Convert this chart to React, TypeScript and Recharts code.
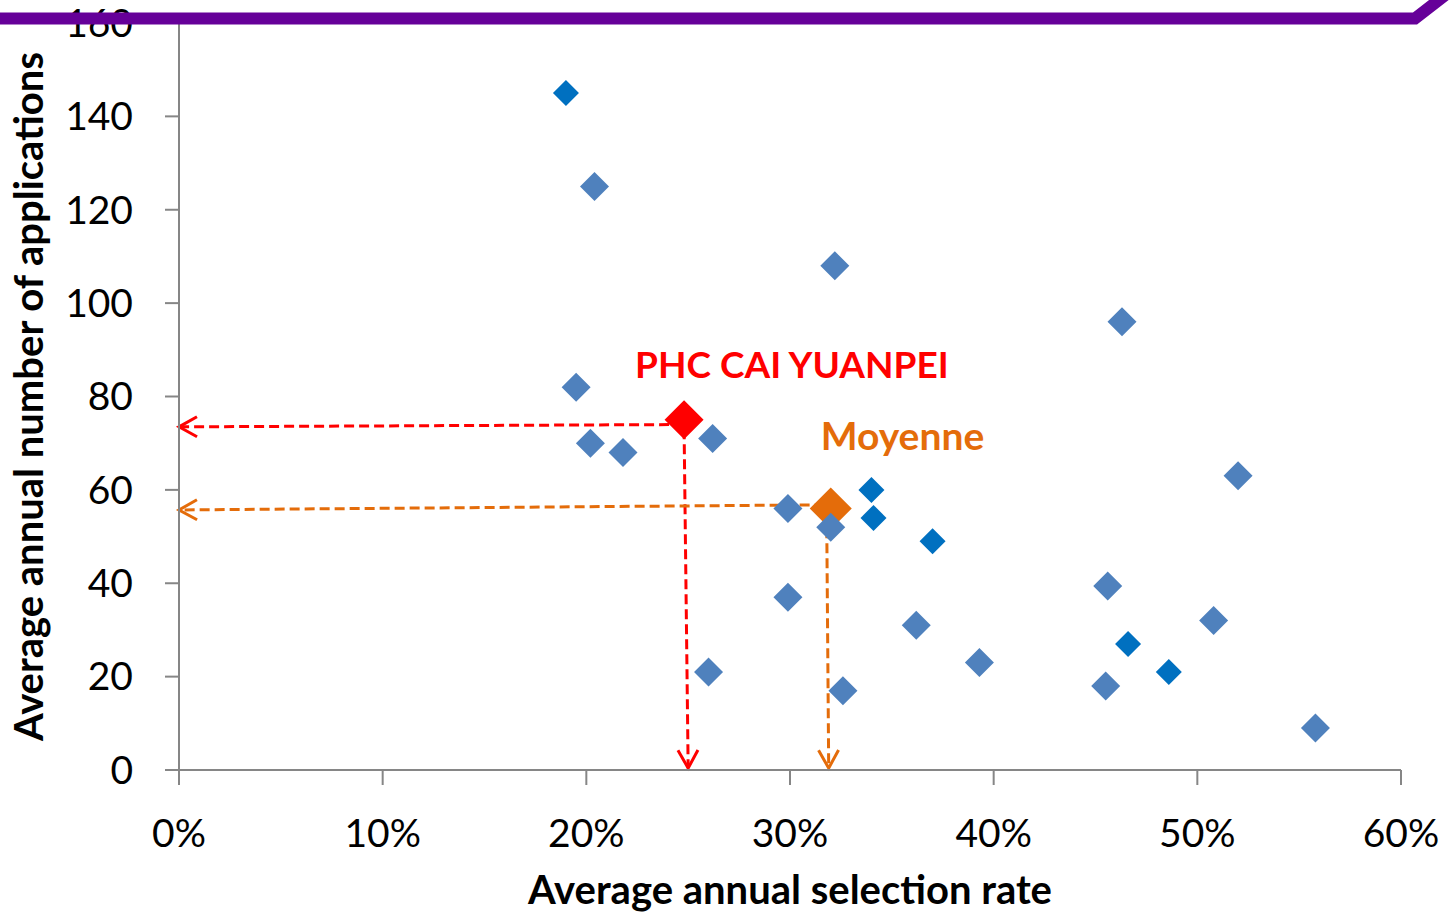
import React from "react";
import { ScatterChart, Scatter, XAxis, YAxis, ReferenceLine, Label } from "recharts";

// Steel-blue series (selection rate %, applications)
const steelX = [20.4, 32.2, 46.3, 19.5, 20.2, 21.8, 26.2, 52.0, 29.9, 32.0, 29.9, 45.6, 50.8, 36.2, 39.3, 26.0, 32.6, 45.5, 55.8];
const steelY = [125, 108, 96, 82, 70, 68, 71, 63, 56, 52, 37, 39.4, 32, 31, 23, 21, 17, 18, 9];
// Dark-blue series
const darkX = [19.0, 34.0, 34.1, 37.0, 46.6, 48.6];
const darkY = [145, 60, 54, 49, 27, 21];
// Highlighted points
const phcX = [24.8];
const phcY = [75];
const moyX = [32.0];
const moyY = [56];
const phcLabel = "PHC CAI YUANPEI";
const moyLabel = "Moyenne";

const xTicks = [0, 10, 20, 30, 40, 50, 60];
const yTicks = [0, 20, 40, 60, 80, 100, 120, 140, 160];

// guide arrows: [x1, y1, x2, y2]
const redGuideH = [24.8, 74.0, 0, 73.5];
const redGuideV = [24.8, 73.0, 25.0, 0.4];
const orangeGuideH = [31.7, 56.8, 0, 55.7];
const orangeGuideV = [31.8, 55.0, 31.9, 0.4];

const toPts = (xs: number[], ys: number[]) => xs.map((x, i) => ({ x, y: ys[i] }));
const steelData = toPts(steelX, steelY);
const darkData = toPts(darkX, darkY);
const phcData = toPts(phcX, phcY);
const moyData = toPts(moyX, moyY);

const FONT = "Lato, 'Open Sans', sans-serif";
const RED = "#FF0000";
const ORANGE = "#E46C0A";

const diamond = (r: number, fill: string) => (p: any) => {
  const { cx, cy } = p;
  return <polygon points={`${cx},${cy - r} ${cx + r},${cy} ${cx},${cy + r} ${cx - r},${cy}`} fill={fill} />;
};

const labeledDiamond = (r: number, fill: string, text: string, dx: number, dy: number, fs: number) => (p: any) => {
  const { cx, cy } = p;
  return (
    <g>
      <polygon points={`${cx},${cy - r} ${cx + r},${cy} ${cx},${cy + r} ${cx - r},${cy}`} fill={fill} />
      <text x={cx + dx} y={cy + dy} fill={fill} fontFamily={FONT} fontWeight={700} fontSize={fs}>
        {text}
      </text>
    </g>
  );
};

const arrowShape = (color: string) => (p: any) => {
  const { x1, y1, x2, y2 } = p;
  const ang = Math.atan2(y2 - y1, x2 - x1);
  const L = 18;
  const W = 10;
  const bx = x2 - L * Math.cos(ang);
  const by = y2 - L * Math.sin(ang);
  const px = -Math.sin(ang) * W;
  const py = Math.cos(ang) * W;
  return (
    <g>
      <line x1={x1} y1={y1} x2={x2} y2={y2} stroke={color} strokeWidth={3} strokeDasharray="10 5" />
      <polyline
        points={`${bx + px},${by + py} ${x2},${y2} ${bx - px},${by - py}`}
        fill="none"
        stroke={color}
        strokeWidth={3}
      />
    </g>
  );
};

const seg = (a: number[]) => [
  { x: a[0], y: a[1] },
  { x: a[2], y: a[3] },
];

export default function App() {
  return (
    <div style={{ position: "absolute", left: 0, top: 0, width: 1453, height: 915, background: "#fff" }}>
      <ScatterChart width={1453} height={915} margin={{ top: 23, right: 52, bottom: 0, left: 0 }}>
        <XAxis
          type="number"
          dataKey="x"
          domain={[0, 60]}
          ticks={xTicks}
          tickFormatter={(v) => `${v}%`}
          height={145}
          tickSize={15}
          tickMargin={34}
          stroke="#868686"
          strokeWidth={2}
          tick={{ fill: "#000", fontSize: 39, fontFamily: FONT }}
          allowDataOverflow
        >
          <Label
            content={(props: any) => {
              const vb = props.viewBox;
              return (
                <text
                  x={vb.x + vb.width / 2}
                  y={vb.y + 134}
                  textAnchor="middle"
                  fontFamily={FONT}
                  fontWeight={700}
                  fontSize={40}
                  fill="#000"
                >
                  Average annual selection rate
                </text>
              );
            }}
          />
        </XAxis>
        <YAxis
          type="number"
          dataKey="y"
          domain={[0, 160]}
          ticks={yTicks}
          width={179}
          tickSize={14}
          tickMargin={32}
          stroke="#868686"
          strokeWidth={2}
          tick={{ fill: "#000", fontSize: 39, fontFamily: FONT }}
          allowDataOverflow
        >
          <Label
            content={(props: any) => {
              const vb = props.viewBox;
              const cy = vb.y + vb.height / 2;
              return (
                <text
                  x={43}
                  y={cy}
                  transform={`rotate(-90 43 ${cy})`}
                  textAnchor="middle"
                  fontFamily={FONT}
                  fontWeight={700}
                  fontSize={40}
                  fill="#000"
                >
                  Average annual number of applications
                </text>
              );
            }}
          />
        </YAxis>
        <Scatter data={moyData} isAnimationActive={false} shape={labeledDiamond(21, ORANGE, moyLabel, -10, -59, 39)} />
        <Scatter data={phcData} isAnimationActive={false} shape={labeledDiamond(19.5, RED, phcLabel, -49, -42, 37)} />
        <Scatter data={steelData} isAnimationActive={false} shape={diamond(14.5, "#4F81BD")} />
        <Scatter data={darkData} isAnimationActive={false} shape={diamond(13, "#0070C0")} />
        <ReferenceLine segment={seg(redGuideH)} shape={arrowShape(RED)} ifOverflow="visible" />
        <ReferenceLine segment={seg(redGuideV)} shape={arrowShape(RED)} ifOverflow="visible" />
        <ReferenceLine segment={seg(orangeGuideH)} shape={arrowShape(ORANGE)} ifOverflow="visible" />
        <ReferenceLine segment={seg(orangeGuideV)} shape={arrowShape(ORANGE)} ifOverflow="visible" />
      </ScatterChart>
      <svg
        width={1453}
        height={915}
        style={{ position: "absolute", left: 0, top: 0, pointerEvents: "none" }}
      >
        <polyline points="0,18.5 1415,18.5 1475,-28" fill="none" stroke="#660099" strokeWidth={12} />
      </svg>
    </div>
  );
}
